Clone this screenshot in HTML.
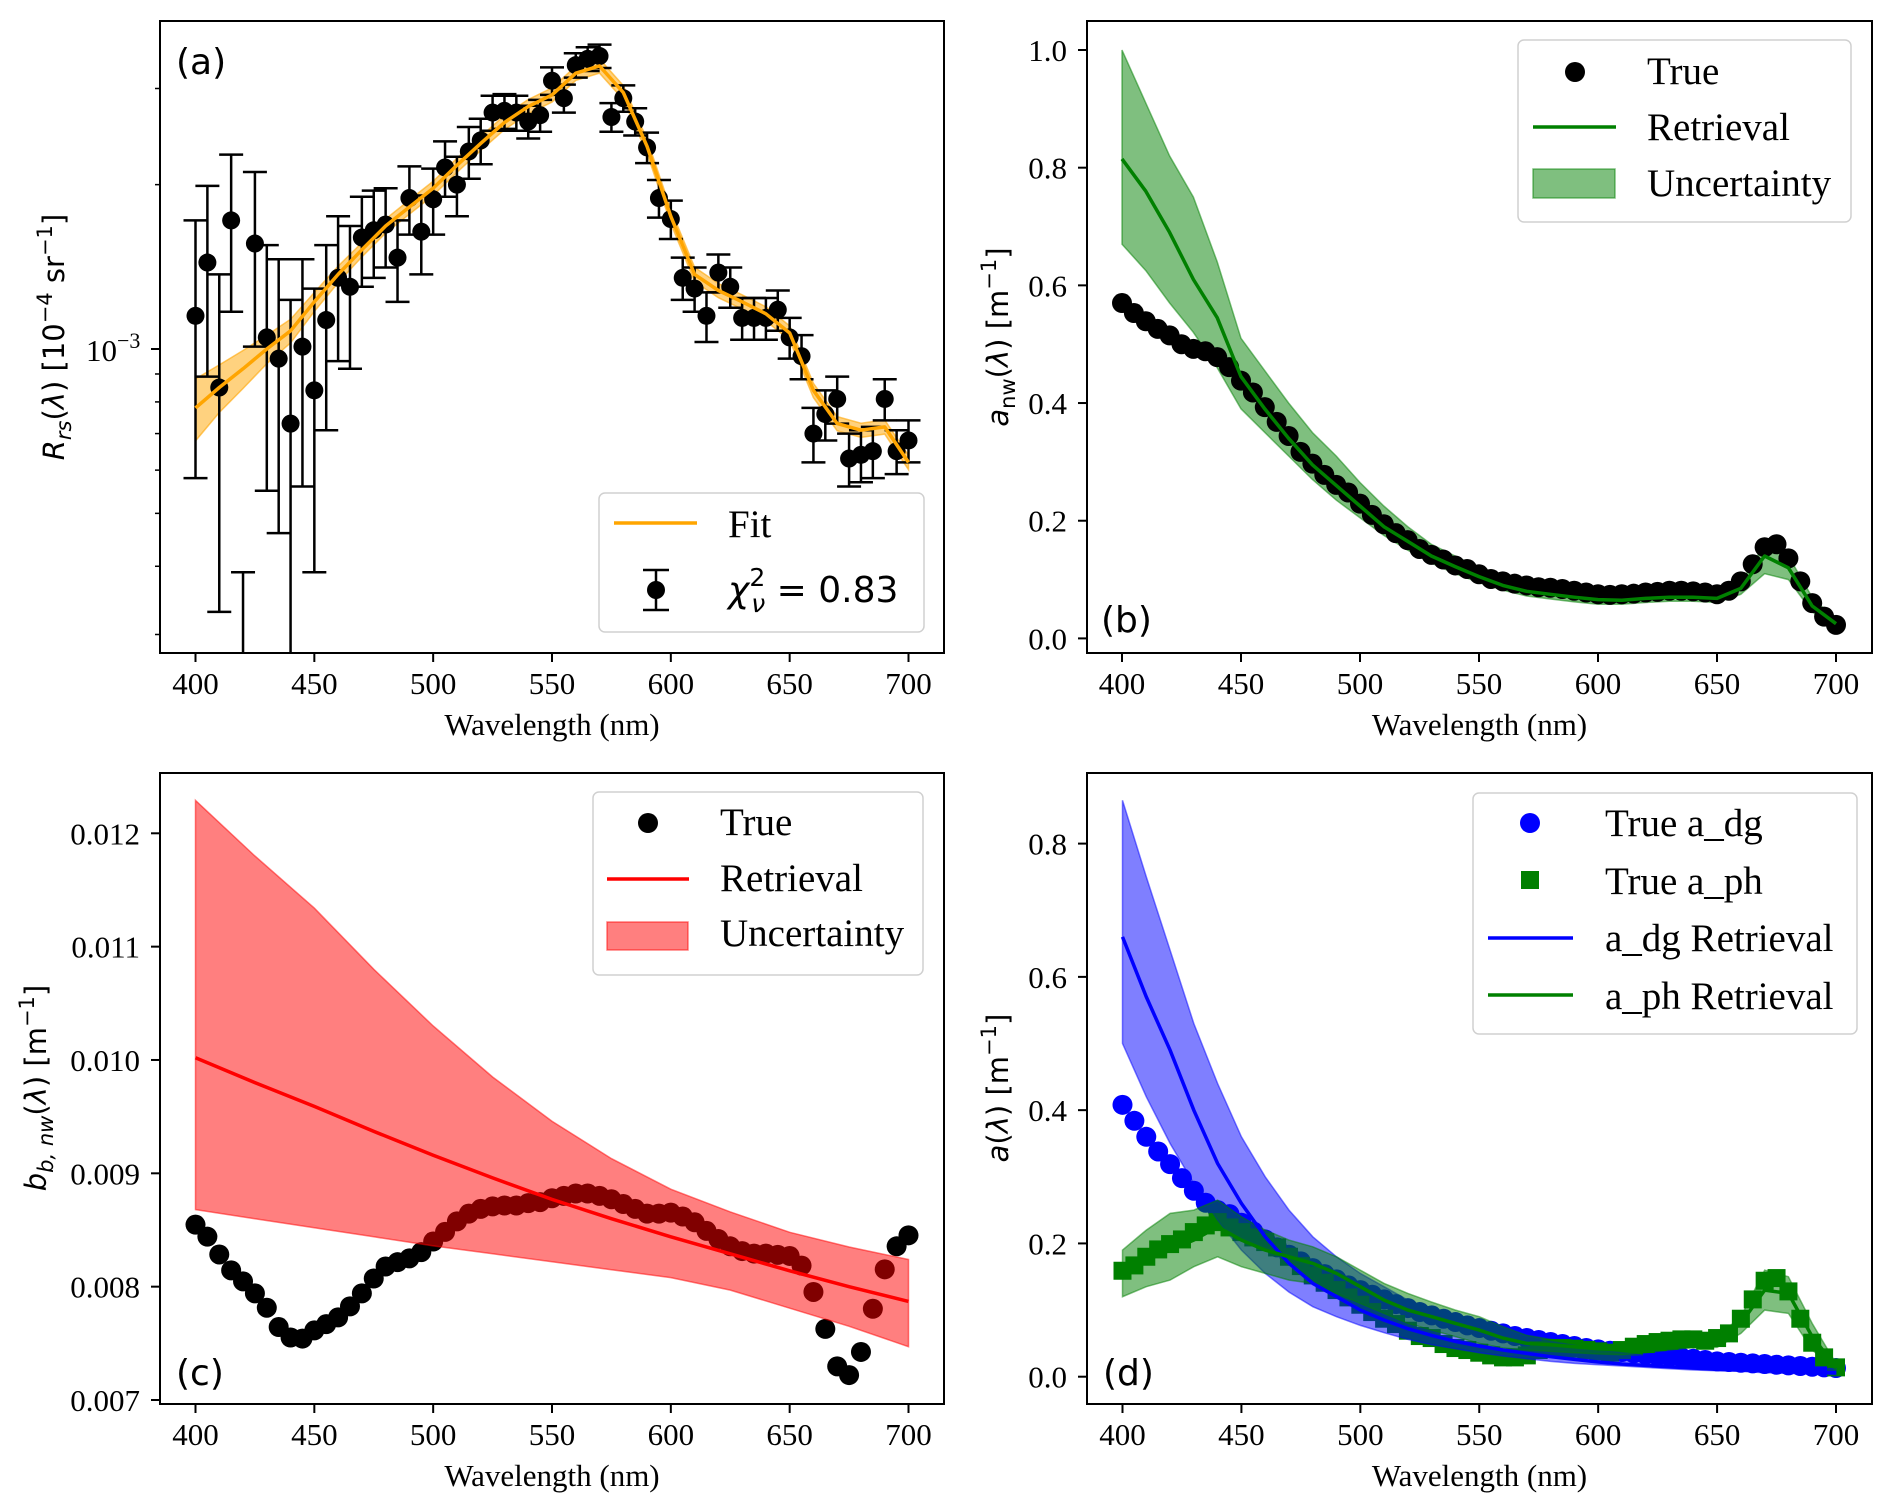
<!DOCTYPE html>
<html><head><meta charset="utf-8"><style>
html,body{margin:0;padding:0;background:#fff;}
svg{display:block;}
.tk{font-family:"Liberation Serif",serif;font-size:31px;fill:#000;}
.lg{font-family:"Liberation Serif",serif;font-size:39px;fill:#000;}
.sn{font-family:"DejaVu Sans",sans-serif;fill:#000;}
</style></head><body>
<svg id="fig" width="1892" height="1511" viewBox="0 0 1892 1511" xmlns="http://www.w3.org/2000/svg"></svg>
<script>
// ---------- data ----------
const wl5 = [400,405,410,415,420,425,430,435,440,445,450,455,460,465,470,475,480,485,490,495,500,505,510,515,520,525,530,535,540,545,550,555,560,565,570,575,580,585,590,595,600,605,610,615,620,625,630,635,640,645,650,655,660,665,670,675,680,685,690,695,700];
const wl10 = [400,410,420,430,440,450,460,470,480,490,500,510,520,530,540,550,560,570,580,590,600,610,620,630,640,650,660,670,680,690,700];
const wl25 = [400,425,450,475,500,525,550,575,600,625,650,675,700];
// panel a (units 1e-3 sr^-1)
const rrsObs = [1.15,1.44,0.85,1.72,0.22,1.56,1.05,0.96,0.73,1.01,0.84,1.13,1.35,1.30,1.60,1.65,1.69,1.47,1.89,1.64,1.88,2.15,2.0,2.30,2.41,2.71,2.73,2.71,2.61,2.68,3.10,2.88,3.31,3.40,3.44,2.66,2.88,2.61,2.34,1.89,1.73,1.35,1.29,1.15,1.38,1.30,1.14,1.14,1.14,1.18,1.05,0.97,0.70,0.76,0.81,0.63,0.64,0.65,0.81,0.65,0.68];
const rrsErr = [0.57,0.55,0.52,0.55,0.17,0.55,0.5,0.5,0.5,0.45,0.45,0.42,0.4,0.38,0.3,0.3,0.28,0.25,0.27,0.27,0.26,0.25,0.25,0.25,0.23,0.2,0.2,0.2,0.18,0.18,0.18,0.17,0.17,0.17,0.17,0.16,0.16,0.15,0.15,0.15,0.14,0.12,0.12,0.12,0.11,0.11,0.1,0.1,0.1,0.1,0.09,0.09,0.08,0.08,0.08,0.07,0.07,0.07,0.07,0.06,0.06];
const rrsFit = [0.78,0.85,0.92,1.0,1.08,1.22,1.37,1.52,1.68,1.82,1.97,2.17,2.38,2.6,2.78,2.92,3.2,3.3,2.95,2.35,1.75,1.37,1.28,1.22,1.16,1.07,0.84,0.73,0.71,0.72,0.62];
const rrsFitRel = [0.13,0.10,0.08,0.06,0.05,0.04,0.035,0.03,0.03,0.03,0.03,0.03,0.03,0.03,0.03,0.03,0.03,0.03,0.03,0.03,0.03,0.03,0.03,0.03,0.03,0.03,0.03,0.03,0.03,0.03,0.03];
// panel b
const anwTrue = [0.570,0.553,0.539,0.526,0.515,0.50,0.492,0.488,0.478,0.461,0.438,0.418,0.393,0.368,0.344,0.317,0.297,0.278,0.261,0.248,0.229,0.21,0.194,0.179,0.167,0.152,0.142,0.134,0.124,0.118,0.109,0.101,0.097,0.093,0.090,0.087,0.086,0.084,0.081,0.078,0.075,0.074,0.075,0.076,0.078,0.079,0.081,0.081,0.080,0.078,0.075,0.081,0.097,0.126,0.155,0.160,0.136,0.097,0.060,0.037,0.023];
const anwRet = [0.815,0.76,0.69,0.61,0.545,0.445,0.39,0.34,0.295,0.26,0.225,0.19,0.165,0.14,0.122,0.105,0.09,0.08,0.075,0.07,0.066,0.065,0.068,0.07,0.07,0.068,0.085,0.14,0.12,0.055,0.025];
const anwHi = [1.0,0.91,0.82,0.75,0.64,0.51,0.455,0.40,0.35,0.31,0.265,0.225,0.19,0.16,0.14,0.12,0.10,0.09,0.085,0.078,0.073,0.072,0.076,0.078,0.078,0.076,0.095,0.16,0.14,0.07,0.03];
const anwLo = [0.67,0.625,0.57,0.52,0.46,0.39,0.35,0.31,0.27,0.235,0.205,0.175,0.15,0.128,0.11,0.095,0.082,0.072,0.067,0.062,0.058,0.058,0.061,0.063,0.063,0.061,0.075,0.11,0.10,0.045,0.02];
// panel c
const bbTrue = [0.008547,0.008441,0.008284,0.008144,0.008047,0.007941,0.007814,0.007644,0.007551,0.007542,0.007614,0.007669,0.007729,0.007826,0.007941,0.008072,0.008178,0.008216,0.00825,0.008305,0.008398,0.008483,0.008576,0.008644,0.008686,0.008708,0.008716,0.008716,0.008737,0.008746,0.00878,0.008801,0.008822,0.008822,0.008801,0.008771,0.008729,0.008686,0.008644,0.008644,0.008653,0.008619,0.008568,0.008492,0.00842,0.008356,0.008314,0.008292,0.008292,0.00828,0.008271,0.008186,0.007953,0.007627,0.007297,0.00722,0.007424,0.007805,0.008153,0.008356,0.008453];
const bbRet = [0.01002,0.00980,0.00959,0.00937,0.00916,0.00896,0.00877,0.00860,0.00844,0.00829,0.00814,0.00800,0.00787];
const bbHi = [0.01229,0.01180,0.01134,0.01080,0.01030,0.00985,0.00946,0.00913,0.00886,0.00866,0.00848,0.00835,0.00824];
const bbLo = [0.00868,0.00860,0.00852,0.00844,0.00836,0.00829,0.00822,0.00815,0.00808,0.00797,0.00781,0.00765,0.00747];
// panel d
const adgTrue = [0.408,0.384,0.360,0.338,0.319,0.298,0.279,0.261,0.25,0.244,0.231,0.218,0.206,0.194,0.183,0.173,0.163,0.154,0.146,0.137,0.130,0.123,0.116,0.109,0.103,0.097,0.092,0.087,0.082,0.077,0.073,0.069,0.065,0.061,0.058,0.055,0.052,0.049,0.046,0.043,0.041,0.039,0.037,0.035,0.033,0.031,0.030,0.029,0.027,0.025,0.023,0.022,0.021,0.020,0.019,0.018,0.017,0.016,0.015,0.014,0.013];
const aphTrue = [0.159,0.167,0.18,0.191,0.199,0.206,0.217,0.227,0.232,0.224,0.217,0.209,0.202,0.194,0.18,0.166,0.152,0.141,0.13,0.119,0.108,0.097,0.087,0.079,0.069,0.061,0.058,0.049,0.043,0.04,0.036,0.032,0.029,0.029,0.032,0.04,0.043,0.043,0.042,0.04,0.038,0.036,0.04,0.045,0.049,0.052,0.054,0.056,0.056,0.054,0.058,0.065,0.087,0.116,0.144,0.148,0.128,0.087,0.051,0.029,0.014];
const adgRet = [0.66,0.57,0.49,0.40,0.32,0.26,0.21,0.17,0.14,0.12,0.10,0.085,0.072,0.062,0.053,0.046,0.040,0.035,0.030,0.026,0.022,0.019,0.017,0.015,0.013,0.011,0.010,0.009,0.008,0.007,0.006];
const adgHi = [0.865,0.75,0.64,0.53,0.44,0.36,0.30,0.25,0.21,0.18,0.155,0.135,0.115,0.10,0.088,0.078,0.068,0.06,0.053,0.047,0.041,0.036,0.032,0.028,0.025,0.022,0.019,0.017,0.015,0.013,0.012];
const adgLo = [0.50,0.42,0.35,0.29,0.235,0.19,0.155,0.127,0.105,0.09,0.077,0.066,0.056,0.048,0.042,0.036,0.031,0.027,0.023,0.020,0.018,0.016,0.014,0.012,0.010,0.009,0.008,0.006,0.005,0.004,0.003];
const aphRet = [0.155,0.175,0.19,0.205,0.225,0.205,0.19,0.18,0.17,0.155,0.135,0.115,0.10,0.09,0.08,0.07,0.058,0.05,0.048,0.045,0.042,0.04,0.045,0.05,0.052,0.052,0.08,0.13,0.125,0.06,0.015];
const aphHi = [0.19,0.22,0.245,0.25,0.265,0.24,0.22,0.205,0.195,0.18,0.16,0.14,0.125,0.112,0.10,0.09,0.075,0.062,0.056,0.052,0.048,0.047,0.052,0.058,0.06,0.06,0.09,0.16,0.15,0.08,0.02];
const aphLo = [0.12,0.135,0.145,0.165,0.18,0.165,0.155,0.145,0.14,0.125,0.11,0.095,0.08,0.07,0.06,0.05,0.043,0.04,0.038,0.036,0.034,0.033,0.036,0.04,0.044,0.044,0.065,0.10,0.095,0.04,0.01];
const xTicks = [400,450,500,550,600,650,700];
const yTicksB = [0.0,0.2,0.4,0.6,0.8,1.0];
const yTicksC = [0.007,0.008,0.009,0.010,0.011,0.012];
const yTicksD = [0.0,0.2,0.4,0.6,0.8];
const minorA = [0.3,0.4,0.5,0.6,0.7,0.8,0.9,2,3,4];

// ---------- helpers ----------
const NS = "http://www.w3.org/2000/svg";
const svg = document.getElementById('fig');
function mk(tag, attrs, parent){ const e=document.createElementNS(NS,tag); for(const k in attrs) e.setAttribute(k,attrs[k]); (parent||svg).appendChild(e); return e; }
function lin(d0,d1,p0,p1){ return v=>p0+(v-d0)*(p1-p0)/(d1-d0); }
function pathOf(xs,ys,fx,fy){ return xs.map((x,i)=>(i?'L':'M')+fx(x).toFixed(1)+','+fy(ys[i]).toFixed(1)).join(''); }
function bandOf(xs,lo,hi,fx,fy){ let d=pathOf(xs,hi,fx,fy); for(let i=xs.length-1;i>=0;i--) d+='L'+fx(xs[i]).toFixed(1)+','+fy(lo[i]).toFixed(1); return d+'Z'; }

function axesFrame(g,L,T,R,B,fx,yt,fy,fmt,name){
  const fr = mk('rect',{x:L,y:T,width:R-L,height:B-T,fill:'none',stroke:'#000','stroke-width':2},g);
  
  
  xTicks.forEach(v=>{
    const x=fx(v);
    const t=mk('line',{x1:x,y1:B,x2:x,y2:B+9,stroke:'#000','stroke-width':2},g);
    
    
    const tx=mk('text',{x:x,y:B+41,'text-anchor':'middle',class:'tk'},g); tx.textContent=v;
    
    
  });
  if(yt){ yt.forEach(v=>{
    const y=fy(v);
    const t=mk('line',{x1:L-9,y1:y,x2:L,y2:y,stroke:'#000','stroke-width':2},g);
    
    
    const tx=mk('text',{x:L-20,y:y+11,'text-anchor':'end',class:'tk'},g); tx.textContent=fmt(v);
    
    
  });}
  const xl=mk('text',{x:(L+R)/2,y:B+82,'text-anchor':'middle',class:'tk'},g); xl.textContent='Wavelength (nm)';
  
  
}
function dot(g,x,y,r,fill,name){ const c=mk('circle',{cx:x,cy:y,r:r,fill:fill},g);   return c; }
function clipFor(id,L,T,R,B){ const cp=mk('clipPath',{id:id}); mk('rect',{x:L,y:T,width:R-L,height:B-T},cp); }

// ---------- panel a ----------
(function(){
  const L=160,T=21,R=944,B=653;
  const g=mk('g',{});  
  const fx=lin(400,700,195.5,908.5);
  const y1=349, D=546;
  const fy=v=>y1-Math.log10(v)*D; // v in units 1e-3
  clipFor('ca',L,T,R,B);
  const pg=mk('g',{'clip-path':'url(#ca)'},g);
  const bh=rrsFit.map((v,i)=>v*(1+rrsFitRel[i])), bl=rrsFit.map((v,i)=>v*(1-rrsFitRel[i]));
  const band=mk('path',{d:bandOf(wl10,bl,bh,fx,fy),fill:'#ffa500','fill-opacity':0.5,stroke:'#ffa500','stroke-opacity':0.6,'stroke-width':1.5},pg);
   
  wl5.forEach((w,i)=>{
    const x=fx(w), v=rrsObs[i], e=rrsErr[i];
    const top=fy(v+e), bot=fy(Math.max(v-e,0.0001));
    const eg=mk('g',{},pg);  
    mk('line',{x1:x,y1:top,x2:x,y2:bot,stroke:'#000','stroke-width':2.5},eg);
    mk('line',{x1:x-12,y1:top,x2:x+12,y2:top,stroke:'#000','stroke-width':2.5},eg);
    mk('line',{x1:x-12,y1:bot,x2:x+12,y2:bot,stroke:'#000','stroke-width':2.5},eg);
    dot(eg,x,fy(v),9,'#000','data-point');
  });
  const fl=mk('path',{d:pathOf(wl10,rrsFit,fx,fy),fill:'none',stroke:'#ffa500','stroke-width':3.5,'stroke-linejoin':'round'},pg);
   
  axesFrame(g,L,T,R,B,fx,null,null,null,'panel-a');
  minorA.forEach(v=>{ const y=fy(v); if(y<T||y>B) return;
    const t=mk('line',{x1:L-5,y1:y,x2:L,y2:y,stroke:'#000','stroke-width':1.5},g);
      });
  mk('line',{x1:L-9,y1:fy(1),x2:L,y2:fy(1),stroke:'#000','stroke-width':2},g);
  const t3=mk('text',{x:86,y:fy(1)+12,class:'tk'},g);
  t3.innerHTML='10<tspan dy="-13" font-size="22">−3</tspan>';
   
  const yl=mk('text',{x:0,y:0,class:'sn','font-size':29,'text-anchor':'middle',transform:'translate(64,337) rotate(-90)'},g);
  yl.innerHTML='<tspan font-style="italic">R</tspan><tspan font-style="italic" font-size="21" dy="7">rs</tspan><tspan dy="-7">(</tspan><tspan font-style="italic">λ</tspan>) [10<tspan font-size="21" dy="-12">−4</tspan><tspan dy="12"> sr</tspan><tspan font-size="21" dy="-12">−1</tspan><tspan dy="12">]</tspan>';
   
  const pl=mk('text',{x:176,y:74,class:'sn','font-size':36},g); pl.textContent='(a)';
   
  const lg=mk('g',{},g);  
  mk('rect',{x:599,y:493,width:325,height:139,rx:6,fill:'#fff','fill-opacity':0.8,stroke:'#d0d0d0','stroke-width':1.5},lg);
  mk('line',{x1:614,y1:523,x2:697,y2:523,stroke:'#ffa500','stroke-width':3.5},lg);
  const f=mk('text',{x:728,y:537,class:'lg'},lg); f.textContent='Fit';
  mk('line',{x1:656,y1:570,x2:656,y2:610,stroke:'#000','stroke-width':2.5},lg);
  mk('line',{x1:643,y1:570,x2:669,y2:570,stroke:'#000','stroke-width':2.5},lg);
  mk('line',{x1:643,y1:610,x2:669,y2:610,stroke:'#000','stroke-width':2.5},lg);
  dot(lg,656,590,9,'#000','legend-marker');
  const c=mk('text',{x:728,y:602,class:'sn','font-size':36},lg);
  c.innerHTML='<tspan font-style="italic">χ</tspan><tspan font-size="25" dy="-16">2</tspan><tspan font-size="25" font-style="italic" dx="-14" dy="26">ν</tspan><tspan dy="-10"> = 0.83</tspan>';
})();

// ---------- panel b ----------
(function(){
  const L=1087,T=21,R=1872,B=653;
  const g=mk('g',{});  
  const fx=lin(400,700,1122,1836), fy=lin(0,1,638.4,50);
  clipFor('cb',L,T,R,B);
  const pg=mk('g',{'clip-path':'url(#cb)'},g);
  const band=mk('path',{d:bandOf(wl10,anwLo,anwHi,fx,fy),fill:'#008000','fill-opacity':0.5,stroke:'#008000','stroke-opacity':0.5,'stroke-width':1.5},pg);
   
  wl5.forEach((w,i)=>dot(pg,fx(w),fy(anwTrue[i]),10,'#000','true-point'));
  const ln=mk('path',{d:pathOf(wl10,anwRet,fx,fy),fill:'none',stroke:'#008000','stroke-width':3.5,'stroke-linejoin':'round'},pg);
   
  axesFrame(g,L,T,R,B,fx,yTicksB,fy,v=>v.toFixed(1),'panel-b');
  const yl=mk('text',{x:0,y:0,class:'sn','font-size':29,'text-anchor':'middle',transform:'translate(1008,337) rotate(-90)'},g);
  yl.innerHTML='<tspan font-style="italic">a</tspan><tspan font-size="21" dy="7">nw</tspan><tspan dy="-7">(</tspan><tspan font-style="italic">λ</tspan>) [m<tspan font-size="21" dy="-12">−1</tspan><tspan dy="12">]</tspan>';
   
  const pl=mk('text',{x:1101,y:632,class:'sn','font-size':36},g); pl.textContent='(b)';
   
  const lg=mk('g',{},g);  
  mk('rect',{x:1518,y:40,width:333,height:182,rx:6,fill:'#fff','fill-opacity':0.8,stroke:'#d0d0d0','stroke-width':1.5},lg);
  dot(lg,1575,72,10,'#000','legend-marker');
  mk('line',{x1:1533,y1:127,x2:1616,y2:127,stroke:'#008000','stroke-width':3.5},lg);
  mk('rect',{x:1533,y:169,width:82,height:29,fill:'#008000','fill-opacity':0.5,stroke:'#008000','stroke-opacity':0.5,'stroke-width':1.5},lg);
  [['True',84],['Retrieval',140],['Uncertainty',196]].forEach(([t,y])=>{const e=mk('text',{x:1647,y:y,class:'lg'},lg); e.textContent=t;});
})();

// ---------- panel c ----------
(function(){
  const L=160,T=773,R=944,B=1404;
  const g=mk('g',{});  
  const fx=lin(400,700,195.5,908.5), fy=lin(0.007,0.012,1400,833.3);
  clipFor('cc',L,T,R,B);
  const pg=mk('g',{'clip-path':'url(#cc)'},g);
  wl5.forEach((w,i)=>dot(pg,fx(w),fy(bbTrue[i]),10,'#000','true-point'));
  const band=mk('path',{d:bandOf(wl25,bbLo,bbHi,fx,fy),fill:'#ff0000','fill-opacity':0.5,stroke:'#ff0000','stroke-opacity':0.5,'stroke-width':1.5},pg);
   
  const ln=mk('path',{d:pathOf(wl25,bbRet,fx,fy),fill:'none',stroke:'#ff0000','stroke-width':3.5},pg);
   
  axesFrame(g,L,T,R,B,fx,yTicksC,fy,v=>v.toFixed(3),'panel-c');
  const yl=mk('text',{x:0,y:0,class:'sn','font-size':29,'text-anchor':'middle',transform:'translate(46,1088) rotate(-90)'},g);
  yl.innerHTML='<tspan font-style="italic">b</tspan><tspan font-style="italic" font-size="21" dy="7">b, nw</tspan><tspan dy="-7">(</tspan><tspan font-style="italic">λ</tspan>) [m<tspan font-size="21" dy="-12">−1</tspan><tspan dy="12">]</tspan>';
   
  const pl=mk('text',{x:176,y:1385,class:'sn','font-size':36},g); pl.textContent='(c)';
   
  const lg=mk('g',{},g);  
  mk('rect',{x:593,y:792,width:330,height:183,rx:6,fill:'#fff','fill-opacity':0.8,stroke:'#d0d0d0','stroke-width':1.5},lg);
  dot(lg,648,823,10,'#000','legend-marker');
  mk('line',{x1:607,y1:879,x2:689,y2:879,stroke:'#ff0000','stroke-width':3.5},lg);
  mk('rect',{x:607,y:922,width:81,height:28,fill:'#ff0000','fill-opacity':0.5,stroke:'#ff0000','stroke-opacity':0.5,'stroke-width':1.5},lg);
  [['True',835],['Retrieval',891],['Uncertainty',946]].forEach(([t,y])=>{const e=mk('text',{x:720,y:y,class:'lg'},lg); e.textContent=t;});
})();

// ---------- panel d ----------
(function(){
  const L=1087,T=773,R=1872,B=1404;
  const g=mk('g',{});  
  const fx=lin(400,700,1122.5,1836), fy=lin(0,0.8,1376.7,843.6);
  clipFor('cd',L,T,R,B);
  const pg=mk('g',{'clip-path':'url(#cd)'},g);
  wl5.forEach((w,i)=>dot(pg,fx(w),fy(adgTrue[i]),10,'#0000ff','true-adg-point'));
  wl5.forEach((w,i)=>{ const s=mk('rect',{x:fx(w)-9,y:fy(aphTrue[i])-9,width:18,height:18,fill:'#008000'},pg);
      });
  const b1=mk('path',{d:bandOf(wl10,adgLo,adgHi,fx,fy),fill:'#0000ff','fill-opacity':0.5,stroke:'#0000ff','stroke-opacity':0.5,'stroke-width':1.5},pg);
   
  const b2=mk('path',{d:bandOf(wl10,aphLo,aphHi,fx,fy),fill:'#008000','fill-opacity':0.5,stroke:'#008000','stroke-opacity':0.5,'stroke-width':1.5},pg);
   
  const l1=mk('path',{d:pathOf(wl10,adgRet,fx,fy),fill:'none',stroke:'#0000ff','stroke-width':3.5},pg);
   
  const l2=mk('path',{d:pathOf(wl10,aphRet,fx,fy),fill:'none',stroke:'#008000','stroke-width':3.5},pg);
   
  axesFrame(g,L,T,R,B,fx,yTicksD,fy,v=>v.toFixed(1),'panel-d');
  const yl=mk('text',{x:0,y:0,class:'sn','font-size':29,'text-anchor':'middle',transform:'translate(1008,1088) rotate(-90)'},g);
  yl.innerHTML='<tspan font-style="italic">a</tspan>(<tspan font-style="italic">λ</tspan>) [m<tspan font-size="21" dy="-12">−1</tspan><tspan dy="12">]</tspan>';
   
  const pl=mk('text',{x:1103,y:1385,class:'sn','font-size':36},g); pl.textContent='(d)';
   
  const lg=mk('g',{},g);  
  mk('rect',{x:1473,y:793,width:384,height:241,rx:6,fill:'#fff','fill-opacity':0.8,stroke:'#d0d0d0','stroke-width':1.5},lg);
  dot(lg,1530,823,10,'#0000ff','legend-marker');
  mk('rect',{x:1521,y:871,width:18,height:18,fill:'#008000'},lg);
  mk('line',{x1:1488,y1:938,x2:1573,y2:938,stroke:'#0000ff','stroke-width':3.5},lg);
  mk('line',{x1:1488,y1:995,x2:1573,y2:995,stroke:'#008000','stroke-width':3.5},lg);
  [['True a_dg',836],['True a_ph',894],['a_dg Retrieval',951],['a_ph Retrieval',1009]].forEach(([t,y])=>{const e=mk('text',{x:1605,y:y,class:'lg'},lg); e.textContent=t;});
})();
</script>
</body></html>
